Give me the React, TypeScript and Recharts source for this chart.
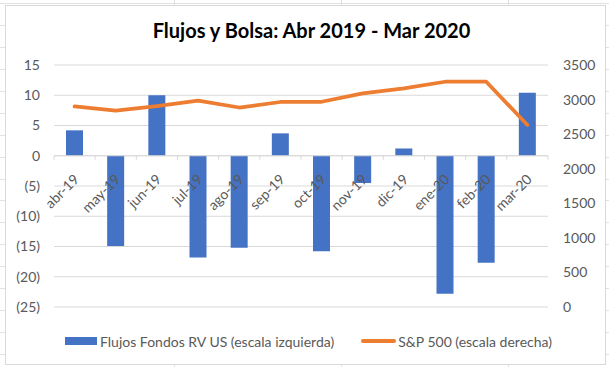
import React from 'react';
import { ComposedChart, Bar, Line, XAxis, YAxis, CartesianGrid, ReferenceLine } from 'recharts';

const months = ['abr-19', 'may-19', 'jun-19', 'jul-19', 'ago-19', 'sep-19', 'oct-19', 'nov-19', 'dic-19', 'ene-20', 'feb-20', 'mar-20'];
const flows = [4.2, -14.9, 10.0, -16.8, -15.2, 3.7, -15.8, -4.5, 1.2, -22.8, -17.7, 10.4];
const sp500 = [2900, 2840, 2905, 2984, 2885, 2965, 2968, 3090, 3163, 3258, 3258, 2633];
const leftTicks = [-25, -20, -15, -10, -5, 0, 5, 10, 15];
const rightTicks = [0, 500, 1000, 1500, 2000, 2500, 3000, 3500];
const title = 'Flujos y Bolsa: Abr 2019 - Mar 2020';
const barName = 'Flujos Fondos RV US (escala izquierda)';
const lineName = 'S&P 500 (escala derecha)';

const data = months.map((m, i) => ({ m, flow: flows[i], sp: sp500[i] }));

const FONT = 'Lato, "Open Sans", sans-serif';
const TXT = '#595959';
const GRID = '#d9d9d9';
const BLUE = '#4472C4';
const ORANGE = '#ED7D31';

const fmtLeft = (v: number) => (v < 0 ? `(${-v})` : `${v}`);

const ZeroAxis = (props: any) => {
  const { x1, y1, x2 } = props;
  if (x1 == null || y1 == null) return null;
  const w = (x2 - x1) / months.length;
  return (
    <g>
      <line x1={x1} y1={y1} x2={x2} y2={y1} stroke={GRID} strokeWidth={1} />
      {months.map((_, i) => (
        <line key={'t' + i} x1={x1 + i * w} y1={y1} x2={x1 + i * w} y2={y1 + 4} stroke={GRID} strokeWidth={1} />
      ))}
      <line x1={x2} y1={y1} x2={x2} y2={y1 + 4} stroke={GRID} strokeWidth={1} />
      {months.map((m, i) => {
        const cx = x1 + (i + 0.5) * w + 2;
        const cy = y1 + 21;
        return (
          <text
            key={'l' + i}
            x={cx}
            y={cy}
            textAnchor="end"
            dy="0.35em"
            transform={`rotate(-45, ${cx}, ${cy})`}
            fill={TXT}
            fontSize={14}
            fontFamily={FONT}
          >
            {m}
          </text>
        );
      })}
    </g>
  );
};

export default function App() {
  return (
    <div
      style={{
        position: 'absolute',
        left: 0,
        top: 0,
        width: 609,
        height: 367,
        overflow: 'hidden',
        backgroundColor: '#fff',
        backgroundImage:
          'repeating-linear-gradient(to bottom, transparent 0px, transparent 3.4px, #e1e1e1 3.4px, #e1e1e1 4.4px, transparent 4.4px, transparent 21.9px), linear-gradient(to right, transparent 174px, #e1e1e1 174px, #e1e1e1 175px, transparent 175px, transparent 341px, #e1e1e1 341px, #e1e1e1 342px, transparent 342px, transparent 508px, #e1e1e1 508px, #e1e1e1 509px, transparent 509px)',
      }}
    >
      <div
        style={{
          position: 'absolute',
          left: 5,
          top: 5,
          width: 599,
          height: 358,
          background: '#fff',
          border: `1px solid ${GRID}`,
        }}
      />
      <div
        style={{
          position: 'absolute',
          left: 0,
          top: 0,
          width: 609,
          height: 367,
        }}
      >
        <ComposedChart width={609} height={367} data={data} margin={{ top: 65, right: 0, bottom: 60, left: 0 }}>
          <CartesianGrid yAxisId="left" vertical={false} stroke={GRID} strokeWidth={1} />
          <XAxis dataKey="m" hide />
          <YAxis
            yAxisId="left"
            width={54}
            domain={[-25, 15]}
            ticks={leftTicks}
            tickFormatter={fmtLeft}
            axisLine={false}
            tickLine={false}
            tickSize={6}
            tickMargin={8}
            interval={0}
            tick={{ fill: TXT, fontSize: 14, fontFamily: FONT }}
          />
          <YAxis
            yAxisId="right"
            orientation="right"
            width={61}
            domain={[0, 3500]}
            ticks={rightTicks}
            axisLine={false}
            tickLine={false}
            tickSize={6}
            tickMargin={9}
            interval={0}
            tick={{ fill: TXT, fontSize: 14, fontFamily: FONT, textAnchor: 'start' }}
          />
          <Bar yAxisId="left" dataKey="flow" fill={BLUE} barSize={17} isAnimationActive={false} />
          <ReferenceLine yAxisId="left" y={0} shape={ZeroAxis} />
          <Line
            yAxisId="right"
            dataKey="sp"
            stroke={ORANGE}
            strokeWidth={3.75}
            strokeLinecap="round"
            strokeLinejoin="round"
            dot={false}
            activeDot={false}
            isAnimationActive={false}
          />
        </ComposedChart>
      </div>
      <div
        style={{
          position: 'absolute',
          left: 0,
          top: 17,
          width: 609,
          boxSizing: 'border-box',
          textAlign: 'center',
          fontFamily: FONT,
          fontWeight: 700,
          fontSize: 20,
          lineHeight: '26px',
          color: '#000',
          paddingLeft: 14,
        }}
      >
        {title}
      </div>
      <div
        style={{
          position: 'absolute',
          left: 65,
          top: 331,
          height: 20,
          display: 'flex',
          alignItems: 'center',
          fontFamily: FONT,
          fontSize: 14,
          color: TXT,
          whiteSpace: 'nowrap',
        }}
      >
        <span style={{ display: 'inline-block', width: 32, height: 8, background: BLUE, marginRight: 3 }} />
        <span>{barName}</span>
        <span
          style={{
            display: 'inline-block',
            width: 35,
            height: 4,
            borderRadius: 2,
            background: ORANGE,
            marginLeft: 27,
            marginRight: 2,
          }}
        />
        <span>{lineName}</span>
      </div>
    </div>
  );
}
